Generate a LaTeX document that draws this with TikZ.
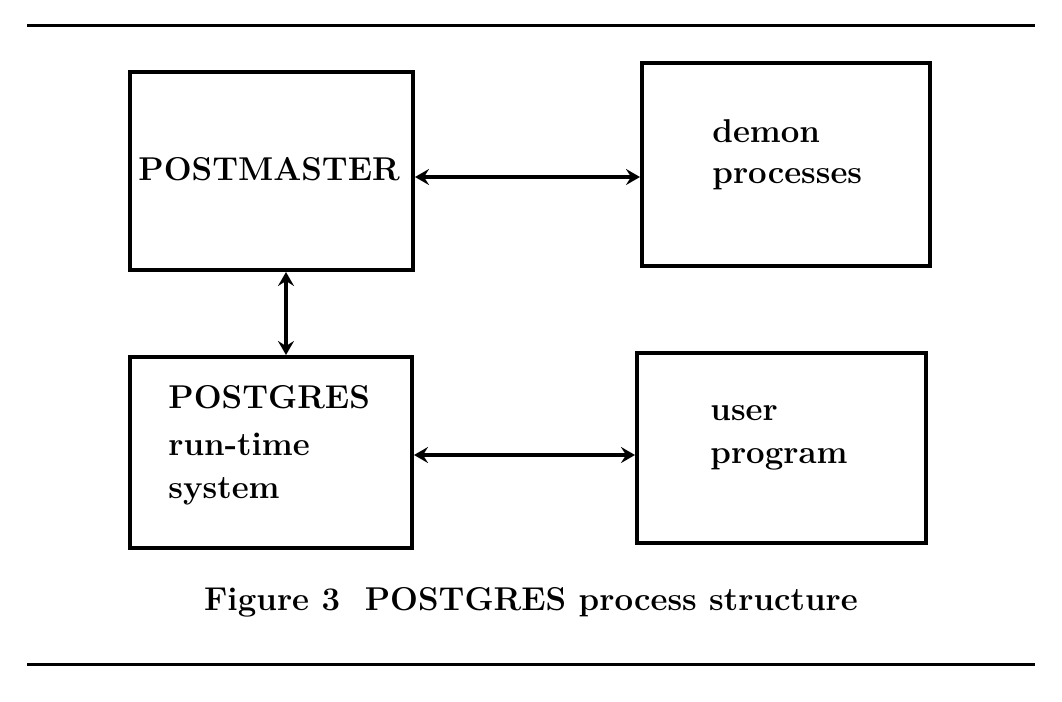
\documentclass[tikz,border=0pt]{standalone}
\usetikzlibrary{arrows.meta}
\begin{document}
\begin{tikzpicture}[x=0.5pt,y=-0.5pt,
  boxst/.style={draw, line width=2pt, inner sep=0pt},
  lbl/.style={anchor=base west, inner sep=0pt, font=\fontsize{16.5}{20}\selectfont\bfseries},
  arr/.style={line width=1.8pt, {Stealth[length=7pt,width=8pt,inset=2.5pt]}-{Stealth[length=7pt,width=8pt,inset=2.5pt]}},
  rulest/.style={line width=1.5pt}]
\useasboundingbox (0,0) rectangle (1062,702);
% rules
\coordinate (r1a) at (27,25);
\coordinate (r1b) at (1035,25);
\coordinate (r2a) at (27,664);
\coordinate (r2b) at (1035,664);
\draw[rulest] (r1a) -- (r1b);
\draw[rulest] (r2a) -- (r2b);
% boxes
\node[boxst, minimum width=141.5pt, minimum height=99pt] (pm) at (271.5,171) {};
\node[boxst, minimum width=144pt, minimum height=101.5pt] (dm) at (786,164.5) {};
\node[boxst, minimum width=141pt, minimum height=95.5pt] (pg) at (271,452.5) {};
\node[boxst, minimum width=144.5pt, minimum height=95pt] (us) at (781.5,448) {};
% labels
\node[lbl] (tpm) at (138,180) {POSTMASTER};
\node[lbl] (tdm1) at (712,142) {demon};
\node[lbl] (tdm2) at (712,183) {processes};
\node[lbl] (tpg1) at (168,408) {POSTGRES};
\node[lbl] (tpg2) at (168,455) {run-time};
\node[lbl] (tpg3) at (168,498) {system};
\node[lbl] (tus1) at (710,420) {user};
\node[lbl] (tus2) at (710,463) {program};
% connectors
\coordinate (y1) at (0,177);
\coordinate (x1) at (286,0);
\coordinate (y2) at (0,455);
\draw[arr] (pm.east |- y1) -- (dm.west |- y1);
\draw[arr] (pm.south -| x1) -- (pg.north -| x1);
\draw[arr] (pg.east |- y2) -- (us.west |- y2);
% caption
\node[anchor=base, inner sep=0pt, font=\fontsize{16.5}{20}\selectfont\bfseries] (cap) at (531,610) {Figure 3\ \ POSTGRES process structure};
\end{tikzpicture}
\end{document}
